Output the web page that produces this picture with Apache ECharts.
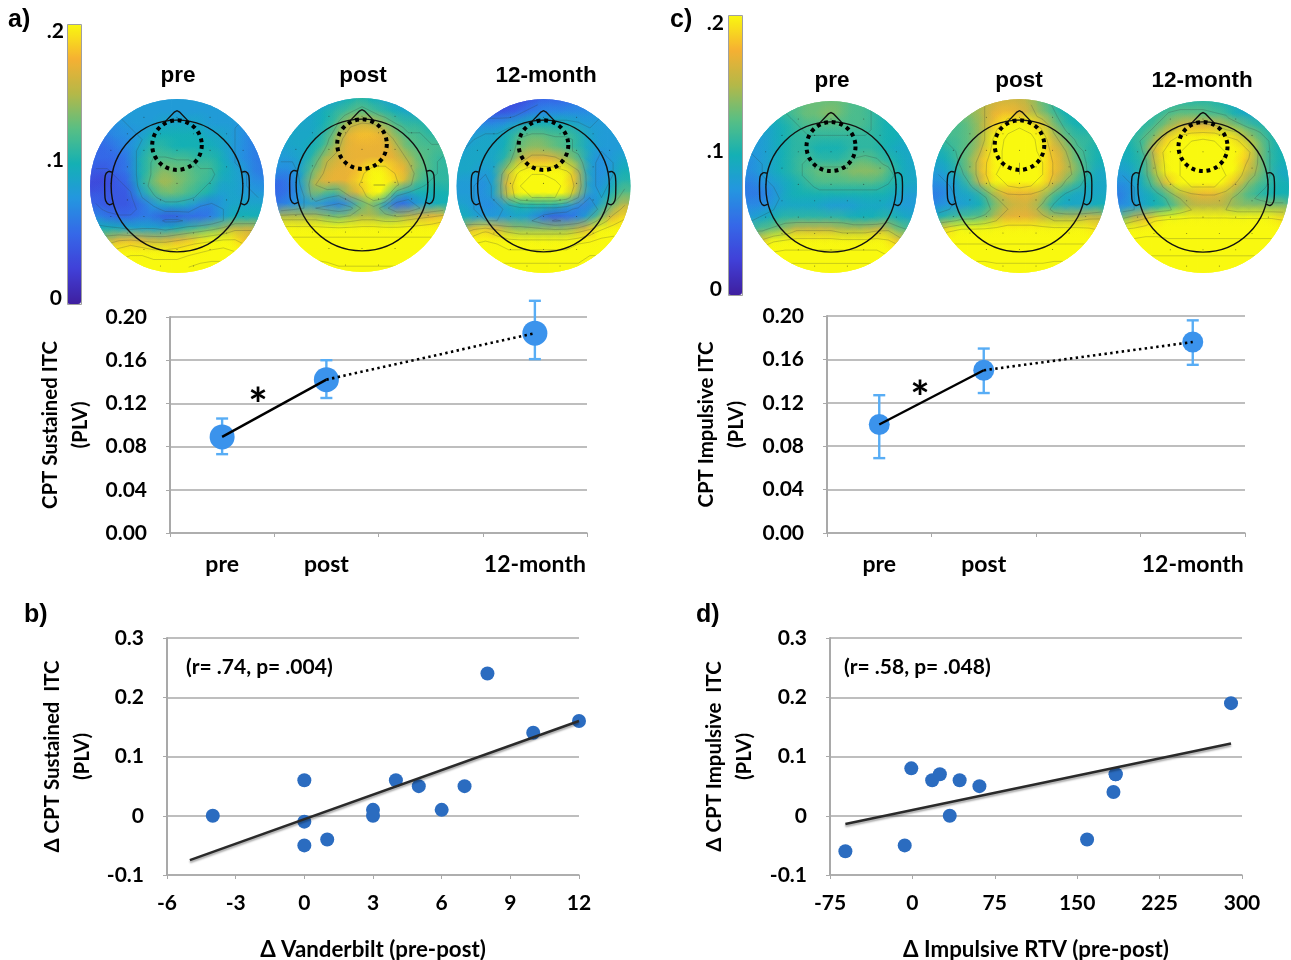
<!DOCTYPE html>
<html>
<head>
<meta charset="utf-8">
<title>ITC topographies</title>
<style>html,body{margin:0;padding:0;background:#fff}#main{width:1291px;height:960px}</style>
<script src="https://cdn.jsdelivr.net/npm/echarts@6/dist/echarts.min.js"></script>
</head>
<body>
<div id="main"></div>
<script>
// topographies: PLV x 100 on a 15x15 lattice, top row first (values over 20 saturate)
var sustainedPre = [
[8,8,8,8,8,8,8,8,8,8,8,8,8,8,8],
[8,8,8,8,8,8,8,8,8,8,8,8,8,8,8],
[7,7,7,8,8,8,9,9,9,9,8,8,8,7,7],
[6,6,7,7,8,10,10,10,10,10,9,9,8,7,6],
[5,5,6,7,9,11,11,10,10,10,10,9,8,7,6],
[5,5,5,6,10,12,12,12,12,11,11,10,8,7,6],
[4,4,5,6,10,12,14,13,13,12,12,10,9,8,6],
[3,3,4,5,10,13,15,14,13,12,11,9,9,8,7],
[4,4,4,4,8,11,13,13,12,11,10,8,9,8,8],
[5,4,4,4,5,7,9,9,9,7,6,8,9,9,9],
[7,6,5,5,6,6,4,4,5,5,6,8,10,10,10],
[10,10,10,9,9,9,9,10,11,12,13,14,16,16,16],
[15,15,17,18,17,16,16,17,18,19,20,21,20,18,16],
[20,20,21,22,22,21,21,21,22,23,24,24,23,20,20],
[24,24,24,24,24,24,24,24,25,26,26,26,24,24,24]];
var sustainedPost = [
[8,8,8,8,8,9,10,11,10,9,8,8,8,8,8],
[8,8,8,9,10,11,12,13,12,11,10,9,9,9,9],
[9,9,9,9,10,12,15,16,16,14,12,11,11,10,10],
[9,9,9,9,11,14,17,18,18,17,14,12,12,11,11],
[8,9,9,10,12,15,17,17,17,17,16,13,12,12,12],
[8,8,9,11,15,16,17,17,17,17,17,15,13,12,11],
[7,7,9,13,16,17,17,18,21,21,18,17,13,12,11],
[5,6,9,15,17,17,17,19,22,22,19,16,12,11,11],
[5,6,8,14,12,11,15,17,21,20,11,9,10,10,10],
[6,7,8,8,7,6,7,12,14,9,5,5,8,9,10],
[15,15,15,15,14,13,14,15,15,14,14,15,16,17,18],
[21,21,21,21,21,21,21,21,21,21,21,21,21,21,21],
[23,23,23,23,23,23,23,23,23,23,23,23,23,23,23],
[24,24,24,24,23,23,23,23,23,23,24,24,24,24,24],
[26,26,26,26,26,25,25,25,25,25,25,26,26,26,26]];
var sustainedYear = [
[5,5,4,3,3,3,4,5,5,5,6,6,7,7,7],
[5,5,4,4,4,5,6,7,7,7,7,7,8,8,8],
[6,7,7,7,8,9,10,10,10,10,9,8,8,8,8],
[7,8,9,9,10,12,13,13,12,12,11,9,8,8,8],
[8,9,9,9,10,13,14,14,13,12,11,9,8,8,8],
[9,9,9,9,11,15,17,17,17,15,13,9,7,8,9],
[9,9,8,9,15,20,22,22,21,20,16,9,7,8,10],
[8,8,7,9,17,22,23,23,23,21,17,9,7,9,11],
[8,8,7,9,16,21,22,22,22,20,15,8,8,10,13],
[9,8,7,7,9,10,10,10,10,9,7,6,9,13,16],
[10,9,8,8,8,9,8,6,4,5,6,9,13,17,19],
[14,17,19,17,15,14,14,14,14,14,15,17,20,21,21],
[20,22,23,22,21,21,21,21,21,21,22,23,24,24,24],
[24,24,24,23,23,23,23,23,23,23,23,25,25,25,25],
[26,26,26,26,26,26,26,26,26,26,26,26,26,26,26]];
var impulsivePre = [
[11,11,11,12,12,13,13,13,13,12,12,11,11,11,11],
[10,10,10,11,12,13,13,14,13,12,12,11,10,10,10],
[9,9,9,10,11,12,12,12,12,12,12,11,10,10,9],
[8,8,9,10,11,11,11,11,11,11,11,11,10,10,9],
[8,8,9,10,11,11,10,10,10,11,11,11,10,9,9],
[7,8,9,10,11,12,11,11,11,12,13,12,11,10,9],
[7,8,9,10,11,12,13,13,13,14,14,14,13,10,9],
[6,7,8,9,10,11,12,12,12,12,12,12,11,10,9],
[6,6,7,9,10,10,10,10,10,10,10,10,10,9,8],
[7,7,8,9,9,9,9,8,8,8,9,9,9,8,8],
[8,9,10,11,11,11,11,11,11,10,10,10,11,10,9],
[12,12,13,14,16,16,16,16,15,15,15,16,16,13,12],
[15,17,20,21,21,21,21,21,21,21,21,21,20,18,15],
[20,22,23,23,23,23,23,23,23,23,23,23,22,20,18],
[26,26,26,26,26,26,26,26,26,26,26,26,26,26,26]];
var impulsivePost = [
[12,12,13,14,15,16,16,16,15,13,11,10,10,10,10],
[12,12,13,14,15,17,18,17,16,14,12,10,10,10,10],
[12,12,12,13,15,18,21,22,21,18,14,11,10,10,10],
[11,12,12,13,15,20,23,24,23,20,16,13,11,11,11],
[10,11,12,13,16,21,23,24,23,21,17,15,12,11,10],
[9,10,12,14,18,21,23,25,24,22,18,16,13,11,10],
[8,9,11,14,18,22,24,25,24,22,18,16,14,11,9],
[7,8,9,12,17,20,22,23,22,20,17,14,12,10,9],
[6,7,9,9,11,15,17,17,17,16,13,10,9,9,9],
[7,8,8,9,10,13,15,16,16,14,10,9,9,9,10],
[10,11,12,12,13,15,17,17,17,16,15,15,15,16,16],
[17,19,21,21,21,21,21,21,21,21,21,21,21,20,19],
[22,22,22,22,22,22,22,22,22,22,22,22,22,22,22],
[24,24,24,24,24,23,23,23,23,23,24,24,24,24,24],
[26,26,26,26,26,26,26,26,26,26,26,26,26,26,26]];
var impulsiveYear = [
[11,11,11,11,11,11,11,11,11,10,9,9,9,9,9],
[11,11,11,11,12,13,13,13,12,12,10,9,9,9,9],
[10,10,11,12,14,16,17,17,17,15,14,12,11,10,10],
[10,11,12,14,18,21,22,23,22,21,19,15,13,11,10],
[10,10,12,17,20,22,23,23,23,22,21,19,14,11,10],
[9,10,11,16,20,22,23,23,23,21,20,18,14,11,10],
[8,9,11,15,20,22,23,23,23,22,20,16,14,11,9],
[7,8,10,13,17,20,22,22,22,20,17,14,12,11,10],
[6,8,9,10,12,15,16,17,17,16,14,12,11,10,10],
[7,8,9,10,11,13,15,15,15,15,14,14,14,14,14],
[13,15,17,19,20,20,20,20,20,20,20,20,20,20,19],
[21,21,21,21,21,21,21,21,21,21,21,21,21,21,21],
[22,23,24,24,23,23,23,23,23,23,23,23,23,23,23],
[25,25,25,25,25,25,25,25,25,25,25,25,25,25,25],
[26,26,26,26,26,26,26,26,26,26,26,26,26,26,26]];
var contourLevels = [4.5, 8, 11.5, 15, 18.5, 22, 25];

// group means with error bars
var sessions = ['pre', 'post', '', '12-month'];
var sustainedMean = [0.089, 0.142, null, 0.185];
var sustainedLow = [0.073, 0.125, null, 0.161];
var sustainedHigh = [0.106, 0.160, null, 0.215];
var impulsiveMean = [0.100, 0.150, null, 0.176];
var impulsiveLow = [0.069, 0.129, null, 0.155];
var impulsiveHigh = [0.127, 0.170, null, 0.196];

// change scores
var vanderbiltPoints = [[-4,0],[0,0.06],[0,-0.01],[0,-0.05],[1,-0.04],[3,0.01],[3,0],[4,0.06],[5,0.05],[6,0.01],[7,0.05],[8,0.24],[10,0.14],[12,0.16]];
var vanderbiltFit = [[-5,-0.075],[12,0.16]];
var rtvPoints = [[-61,-0.06],[-7,-0.05],[-1,0.08],[18,0.06],[25,0.07],[34,0],[43,0.06],[61,0.05],[159,-0.04],[183,0.04],[185,0.07],[185,0.07],[290,0.19]];
var rtvFit = [[-61,-0.014],[290,0.122]];

var chart = echarts.init(document.getElementById('main'));
var FONT = 'Lato';
var GREY = '#a9a9a9';
var SIDE = 15;

var ramp = ['#3f1f9f', '#4040d8', '#3568e8', '#2496e0', '#14b0b4', '#58bf84', '#b4b848', '#f6b032', '#f9f90f'];

var topos = [
	{ grid: sustainedPre, cx: 177, cy: 186, r: 87, title: 'pre', tx: 178, ty: 76 },
	{ grid: sustainedPost, cx: 362, cy: 185, r: 87, title: 'post', tx: 363, ty: 76 },
	{ grid: sustainedYear, cx: 543.5, cy: 186, r: 87, title: '12-month', tx: 546, ty: 76 },
	{ grid: impulsivePre, cx: 831, cy: 187, r: 86, title: 'pre', tx: 832, ty: 81 },
	{ grid: impulsivePost, cx: 1019.5, cy: 186, r: 87, title: 'post', tx: 1019, ty: 81 },
	{ grid: impulsiveYear, cx: 1203, cy: 187, r: 86, title: '12-month', tx: 1202, ty: 81 }
];

var grids = [], xAxes = [], yAxes = [], series = [], graphics = [];

function discClip(params) {
	var c = params.coordSys;
	return { type: 'circle', shape: { cx: c.x + c.width / 2, cy: c.y + c.height / 2, r: c.width / 2 } };
}

function renderCell(params, api) {
	var p = api.coord([api.value(0) - 0.5, api.value(1) + 0.5]);
	var s = api.size([1, 1]);
	return {
		type: 'rect',
		shape: { x: p[0], y: p[1], width: s[0] + 0.5, height: s[1] + 0.5 },
		style: { fill: api.visual('color') },
		clipPath: discClip(params)
	};
}

// soft blob over each cell, hides the lattice steps
function renderBlob(params, api) {
	var p = api.coord([api.value(0), api.value(1)]);
	var s = api.size([1, 1]);
	var col = api.visual('color');
	return {
		type: 'circle',
		shape: { cx: p[0], cy: p[1], r: s[0] * 1.5 },
		style: {
			fill: {
				type: 'radial', x: 0.5, y: 0.5, r: 0.5,
				colorStops: [
					{ offset: 0, color: echarts.color.modifyAlpha(col, 0.9) },
					{ offset: 0.5, color: echarts.color.modifyAlpha(col, 0.45) },
					{ offset: 1, color: echarts.color.modifyAlpha(col, 0) }
				]
			}
		},
		clipPath: discClip(params)
	};
}

function contourPath(rows, api) {
	var d = '';
	function pt(x, y) { var q = api.coord([x, y]); return q[0].toFixed(1) + ' ' + q[1].toFixed(1); }
	contourLevels.forEach(function (lv) {
		for (var r = 0; r < SIDE - 1; r++) {
			for (var c = 0; c < SIDE - 1; c++) {
				var a = rows[r][c], b = rows[r][c + 1], e = rows[r + 1][c + 1], f = rows[r + 1][c];
				var xl = c + 0.5, xr = c + 1.5, yt = SIDE - r - 0.5, yb = SIDE - r - 1.5, hits = [];
				if ((a < lv) !== (b < lv)) hits.push([xl + (lv - a) / (b - a), yt]);
				if ((b < lv) !== (e < lv)) hits.push([xr, yt - (lv - b) / (e - b)]);
				if ((f < lv) !== (e < lv)) hits.push([xl + (lv - f) / (e - f), yb]);
				if ((a < lv) !== (f < lv)) hits.push([xl, yt - (lv - a) / (f - a)]);
				for (var h = 0; h + 1 < hits.length; h += 2) {
					d += 'M' + pt(hits[h][0], hits[h][1]) + 'L' + pt(hits[h + 1][0], hits[h + 1][1]);
				}
			}
		}
	});
	return d;
}

function renderHead(rows) {
	return function (params, api) {
		var half = SIDE / 2;
		function u(x, y) { return api.coord([half + half * x, half + half * y]); }
		var o = u(0, 0), rad = api.size([half, half])[0];
		var kids = [];
		kids.push({
			type: 'path',
			shape: { pathData: contourPath(rows, api) },
			style: { fill: null, stroke: 'rgba(50,60,60,0.3)', lineWidth: 0.8 },
			clipPath: discClip(params)
		});
		// electrode grid
		for (var ex = -8; ex <= 8; ex++) {
			for (var ey = -9; ey <= 8; ey++) {
				var nx = ex * 0.19, ny = ey * 0.19 + 0.03;
				if (nx * nx + ny * ny > 0.9 || (ex + ey + 80) % 2) continue;
				var e = u(nx, ny);
				kids.push({ type: 'circle', shape: { cx: e[0], cy: e[1], r: 0.55 }, style: { fill: 'rgba(30,30,30,0.55)' } });
			}
		}
		var headStyle = { fill: null, stroke: '#111', lineWidth: 1.4 };
		kids.push({ type: 'circle', shape: { cx: o[0], cy: o[1], r: rad * 0.757 }, style: headStyle });
		kids.push({ type: 'polyline', shape: { points: [u(-0.135, 0.74), u(-0.03, 0.85), u(0, 0.865), u(0.03, 0.85), u(0.135, 0.74)] }, style: headStyle });
		[-1, 1].forEach(function (sgn) {
			kids.push({
				type: 'polyline',
				shape: {
					smooth: 0.35,
					points: [u(sgn * 0.745, 0.16), u(sgn * 0.79, 0.165), u(sgn * 0.825, 0.12), u(sgn * 0.83, -0.08), u(sgn * 0.82, -0.17), u(sgn * 0.78, -0.215), u(sgn * 0.735, -0.2)]
				},
				style: headStyle
			});
		});
		// region of interest
		var roi = u(0, 0.47);
		var roiR = rad * 0.285;
		var dash = 2 * Math.PI * roiR / 20;
		kids.push({
			type: 'circle',
			shape: { cx: roi[0], cy: roi[1], r: roiR },
			style: { fill: null, stroke: '#000', lineWidth: 4, lineDash: [dash * 0.5, dash * 0.5] }
		});
		return { type: 'group', children: kids };
	};
}

var mapSeriesA = [], mapSeriesC = [];
topos.forEach(function (t, i) {
	grids.push({ left: t.cx - t.r, top: t.cy - t.r, width: t.r * 2, height: t.r * 2, outerBoundsMode: 'none' });
	xAxes.push({ gridIndex: i, type: 'value', min: 0, max: SIDE, show: false });
	yAxes.push({ gridIndex: i, type: 'value', min: 0, max: SIDE, show: false });
	var cells = [];
	t.grid.forEach(function (row, r) {
		row.forEach(function (v, c) { cells.push([c + 0.5, SIDE - r - 0.5, v]); });
	});
	[renderCell, renderBlob].forEach(function (fn) {
		(i < 3 ? mapSeriesA : mapSeriesC).push(series.length);
		series.push({
			type: 'custom', xAxisIndex: i, yAxisIndex: i, coordinateSystem: 'cartesian2d', silent: true,
			encode: { x: 0, y: 1 }, renderItem: fn, data: cells
		});
	});
	series.push({
		type: 'custom', xAxisIndex: i, yAxisIndex: i, coordinateSystem: 'cartesian2d', silent: true,
		renderItem: renderHead(t.grid), data: [[SIDE / 2, SIDE / 2]]
	});
	graphics.push(label(t.title, t.tx, t.ty, 22.5, 'center', 'Liberation Sans'));
});

function label(text, x, y, size, align, family) {
	return {
		type: 'text', x: x, y: y, silent: true,
		style: { text: text, fill: '#000', font: 'bold ' + size + 'px "' + (family || FONT) + '"', textAlign: align, textVerticalAlign: 'middle' }
	};
}

function axisText(size) {
	return { color: '#000', fontFamily: FONT, fontWeight: 'bold', fontSize: size };
}

function valueY(index, min, max, step, name, gap, fmt) {
	return {
		gridIndex: index, type: 'value', min: min, max: max, interval: step,
		name: name, nameLocation: 'middle', nameGap: gap, nameRotate: 90,
		nameTextStyle: { color: '#000', fontFamily: FONT, fontWeight: 'bold', fontSize: 20.4, lineHeight: 30 },
		axisLine: { show: true, onZero: false, lineStyle: { color: GREY, width: 2 } },
		axisTick: { show: true, length: 4, lineStyle: { color: GREY, width: 1 } },
		axisLabel: Object.assign(axisText(21), { margin: 23, formatter: fmt }),
		splitLine: { show: true, lineStyle: { color: GREY, width: 1.5 } }
	};
}

// session panels a) and c)
function addSession(index, box, mean, low, high, name, gap, dotSize) {
	grids.push(box);
	xAxes.push({
		gridIndex: index, type: 'category', data: sessions, boundaryGap: true,
		axisLine: { lineStyle: { color: GREY, width: 1.5 } },
		axisTick: { show: true, length: 4, inside: false, lineStyle: { color: GREY, width: 1 } },
		axisLabel: Object.assign(axisText(23), { margin: 20, interval: 0 }),
		splitLine: { show: false }
	});
	yAxes.push(valueY(index, 0, 0.2, 0.04, name, gap, function (v) { return v.toFixed(2); }));
	series.push({
		type: 'custom', xAxisIndex: index, yAxisIndex: index, silent: true, z: 3,
		renderItem: function (params, api) {
			var top = api.coord([api.value(0), api.value(2)]);
			var bot = api.coord([api.value(0), api.value(1)]);
			var st = { stroke: '#58adf5', lineWidth: 2.4, fill: null };
			return {
				type: 'group', children: [
					{ type: 'line', shape: { x1: top[0], y1: top[1], x2: bot[0], y2: bot[1] }, style: st },
					{ type: 'line', shape: { x1: top[0] - 6, y1: top[1], x2: top[0] + 6, y2: top[1] }, style: st },
					{ type: 'line', shape: { x1: bot[0] - 6, y1: bot[1], x2: bot[0] + 6, y2: bot[1] }, style: st }
				]
			};
		},
		encode: { x: 0, y: [1, 2] },
		data: [0, 1, 3].map(function (k) { return [k, low[k], high[k]]; })
	});
	series.push({
		type: 'scatter', xAxisIndex: index, yAxisIndex: index, silent: true, z: 4, symbolSize: dotSize,
		itemStyle: { color: '#3b93ec', opacity: 1 },
		data: [0, 1, 3].map(function (k) { return [k, mean[k]]; })
	});
	series.push({
		type: 'line', xAxisIndex: index, yAxisIndex: index, silent: true, z: 5, showSymbol: false,
		lineStyle: { color: '#000', width: 2.4 },
		data: [mean[0], mean[1]]
	});
	series.push({
		type: 'line', xAxisIndex: index, yAxisIndex: index, silent: true, z: 5, showSymbol: false, connectNulls: true,
		lineStyle: { color: '#000', width: 2.6, type: [2.4, 3.4] },
		data: [null, mean[1], null, mean[3]]
	});
}
addSession(6, { left: 170, top: 317, width: 417, height: 216, outerBoundsMode: 'none' }, sustainedMean, sustainedLow, sustainedHigh, 'CPT Sustained ITC\n(PLV)', 75, 25);
addSession(7, { left: 827, top: 316, width: 418, height: 217, outerBoundsMode: 'none' }, impulsiveMean, impulsiveLow, impulsiveHigh, 'CPT Impulsive ITC\n(PLV)', 76, 21);

// correlation panels b) and d)
function addScatter(index, box, xMin, xMax, xStep, points, fit, yName, gap, xName) {
	grids.push(box);
	xAxes.push({
		gridIndex: index, type: 'value', min: xMin, max: xMax, interval: xStep,
		name: xName, nameLocation: 'middle', nameGap: 64,
		nameTextStyle: { color: '#000', fontFamily: FONT, fontWeight: 'bold', fontSize: 22.3 },
		axisLine: { onZero: false, lineStyle: { color: GREY, width: 1.5 } },
		axisTick: { show: true, length: 4, lineStyle: { color: GREY, width: 1 } },
		axisLabel: Object.assign(axisText(21), { margin: 18 }),
		splitLine: { show: false }
	});
	yAxes.push(valueY(index, -0.1, 0.3, 0.1, yName, gap));
	series.push({
		type: 'scatter', xAxisIndex: index, yAxisIndex: index, silent: true, symbolSize: 14,
		itemStyle: { color: '#2b6cc0', opacity: 1 }, data: points
	});
	series.push({
		type: 'line', xAxisIndex: index, yAxisIndex: index, silent: true, showSymbol: false, z: 4,
		lineStyle: { color: '#2a2a2a', width: 2.5, shadowColor: 'rgba(0,0,0,0.35)', shadowBlur: 2, shadowOffsetY: 2 },
		data: fit
	});
}
addScatter(8, { left: 167, top: 638, width: 412, height: 237, outerBoundsMode: 'none' }, -6, 12, 3, vanderbiltPoints, vanderbiltFit, '\u0394 CPT Sustained  ITC\n(PLV)', 70, '\u0394 Vanderbilt (pre-post)');
addScatter(9, { left: 830, top: 638, width: 412, height: 237, outerBoundsMode: 'none' }, -75, 300, 75, rtvPoints, rtvFit, '\u0394 CPT Impulsive  ITC\n(PLV)', 71, '\u0394 Impulsive RTV (pre-post)');

graphics.push(
	label('a)', 8, 20, 25, 'left', 'Liberation Sans'),
	label('c)', 670, 20, 25, 'left', 'Liberation Sans'),
	label('b)', 24, 615, 25, 'left', 'Liberation Sans'),
	label('d)', 696, 615, 25, 'left', 'Liberation Sans'),
	label('.2', 64, 31, 21, 'right'), label('.1', 64, 160, 21, 'right'), label('0', 62, 298, 21, 'right'),
	label('.2', 724, 23, 21, 'right'), label('.1', 724, 151, 21, 'right'), label('0', 722, 289, 21, 'right'),
	label('*', 258, 406, 46, 'center'), label('*', 920, 399, 46, 'center'),
	label('(r= .74, p= .004)', 186, 667, 21, 'left'),
	label('(r= .58, p= .048)', 844, 667, 21, 'left'),
	{ type: 'rect', silent: true, z: 10, shape: { x: 67.5, y: 24.5, width: 14, height: 280 }, style: { fill: null, stroke: '#a0a0a0', lineWidth: 1 } },
	{ type: 'rect', silent: true, z: 10, shape: { x: 728.5, y: 15.5, width: 14, height: 280 }, style: { fill: null, stroke: '#a0a0a0', lineWidth: 1 } }
);

function colorBar(left, top, idx) {
	return {
		type: 'continuous', min: 0, max: 20, dimension: 2, seriesIndex: idx, calculable: false, hoverLink: false,
		left: left, top: top, itemWidth: 14, itemHeight: 280, showLabel: false, text: null, padding: 0,
		inRange: { color: ramp }
	};
}

var option = {
	backgroundColor: '#fff',
	animation: false,
	visualMap: [colorBar(67, 24, mapSeriesA), colorBar(728, 15, mapSeriesC)],
	grid: grids,
	xAxis: xAxes,
	yAxis: yAxes,
	series: series,
	graphic: { elements: graphics }
};
chart.setOption(option);
</script>
</body>
</html>
